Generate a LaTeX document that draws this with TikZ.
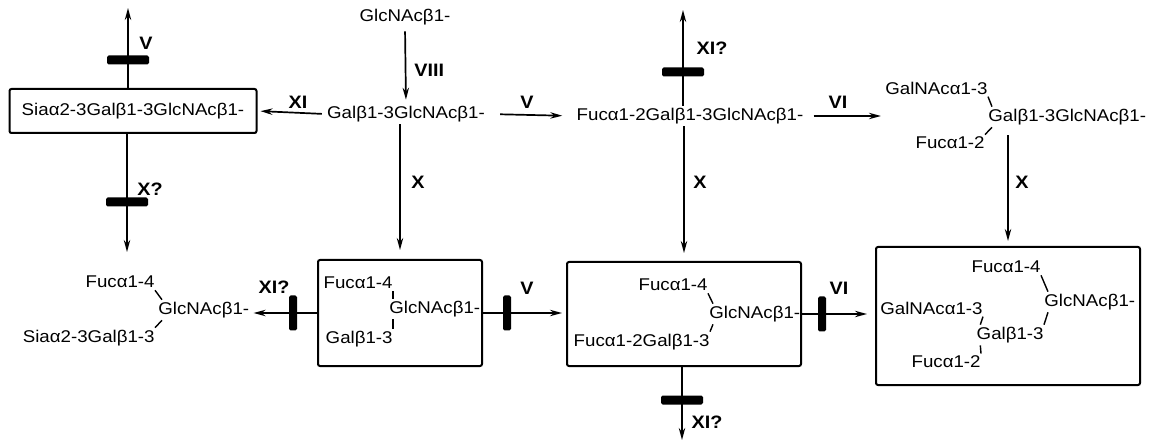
\documentclass[tikz,border=0pt]{standalone}
\usepackage{fontspec}
\setmainfont{Liberation Sans}[FakeStretch=1.1]
\usetikzlibrary{arrows.meta}
\tikzset{
  sugar/.style={font=\fontsize{8.5}{10}\selectfont, inner sep=1pt},
  enzyme/.style={font=\fontsize{9}{10}\selectfont\bfseries, inner sep=1pt},
  productbox/.style={draw, line width=1pt, rounded corners=1pt, inner sep=0pt},
  reaction/.style={line width=0.85pt, -{Stealth[length=6pt,width=3.2pt]}},
  link/.style={line width=0.7pt},
  blockh/.style={fill, rounded corners=0.8pt, minimum width=21pt, minimum height=4.5pt, inner sep=0pt},
  blockv/.style={fill, rounded corners=0.8pt, minimum width=4pt, minimum height=17.5pt, inner sep=0pt}
}

\begin{document}
\begin{tikzpicture}[x=0.5pt, y=-0.5pt]
  \useasboundingbox (0,0) rectangle (1162,443);

  % upper row
  \node[sugar] (glcTop) at (405,17) {GlcNAcβ1-};
  \node[sugar] (galA) at (406,114) {Galβ1-3GlcNAcβ1-};
  \node[sugar, productbox, minimum width=123.5pt, minimum height=22pt] (sia) at (133,111) {Siaα2-3Galβ1-3GlcNAcβ1-};
  \node[sugar] (fucGal) at (690,116) {Fucα1-2Galβ1-3GlcNAcβ1-};
  \node[sugar, anchor=east] (galnacA) at (990,88) {GalNAcα1-3};
  \node[sugar, anchor=west] (galB) at (986,117) {Galβ1-3GlcNAcβ1-};
  \node[sugar, anchor=east] (fucB) at (987,143) {Fucα1-2};
  \draw[link] ([xshift=-1pt]galnacA.south east) -- ([xshift=3pt]galB.north west);
  \draw[link] ([xshift=3pt]galB.south west) -- ([xshift=-1pt]fucB.north east);

  % lower row
  \node[sugar, anchor=east] (fucC) at (157,282) {Fucα1-4};
  \node[sugar, anchor=west] (glcC) at (156,310) {GlcNAcβ1-};
  \node[sugar, anchor=east] (siaC) at (157,338) {Siaα2-3Galβ1-3};
  \draw[link] ([xshift=-1pt]fucC.south east) -- ([xshift=3pt]glcC.north west);
  \draw[link] ([xshift=3pt]glcC.south west) -- ([xshift=-1pt]siaC.north east);

  \node[productbox, minimum width=82pt, minimum height=53pt] (box2) at (400,313) {};
  \node[sugar, anchor=east] (fucD) at (395,283) {Fucα1-4};
  \node[sugar, anchor=west] (glcD) at (387,309) {GlcNAcβ1-};
  \node[sugar, anchor=east] (galD) at (395,339) {Galβ1-3};
  \draw[link] ([xshift=-1pt]fucD.south east) -- ([xshift=3pt]glcD.north west);
  \draw[link] ([xshift=3pt]glcD.south west) -- ([xshift=-1pt]galD.north east);

  \node[productbox, minimum width=117pt, minimum height=52pt] (box3) at (684,314) {};
  \node[sugar, anchor=east] (fucE) at (710,285) {Fucα1-4};
  \node[sugar, anchor=west] (glcE) at (707,314) {GlcNAcβ1-};
  \node[sugar, anchor=east] (fgE) at (712,342) {Fucα1-2Galβ1-3};
  \draw[link] ([xshift=-1pt]fucE.south east) -- ([xshift=3pt]glcE.north west);
  \draw[link] ([xshift=3pt]glcE.south west) -- ([xshift=-1pt]fgE.north east);

  \node[productbox, minimum width=132pt, minimum height=69pt] (box4) at (1008,316) {};
  \node[sugar, anchor=east] (fucF) at (1043,267) {Fucα1-4};
  \node[sugar, anchor=west] (glcF) at (1042,302) {GlcNAcβ1-};
  \node[sugar, anchor=east] (galnacF) at (985,308) {GalNAcα1-3};
  \node[sugar, anchor=east] (galF) at (1046,335) {Galβ1-3};
  \node[sugar, anchor=east] (fucG) at (983,362) {Fucα1-2};
  \draw[link] ([xshift=-1pt]fucF.south east) -- ([xshift=3pt]glcF.north west);
  \draw[link] ([xshift=3pt]glcF.south west) -- ([xshift=-1pt]galF.north east);
  \draw[link] ([xshift=-1pt]galnacF.south east) -- ([xshift=3pt]galF.north west);
  \draw[link] ([xshift=3pt]galF.south west) -- ([xshift=-1pt]fucG.north east);

  % reactions
  \coordinate (siaUp) at (128,8);
  \coordinate (siaDown) at (127,252);
  \coordinate (fgUp) at (683,10);
  \coordinate (b3Down) at (682,440);
  \draw[reaction, shorten <=2pt, shorten >=2pt] (glcTop.south) -- (galA.north);
  \draw[reaction, shorten <=1.5pt, shorten >=1.5pt] (galA.west) -- (sia.east);
  \draw[reaction, shorten <=6.5pt, shorten >=6pt] (galA.east) -- (fucGal.west);
  \draw[reaction, shorten <=4pt, shorten >=1pt] (fucGal.east) -- (fucGal.east -| galnacA.west);
  \draw[reaction] (sia.north -| siaUp) -- (siaUp);
  \draw[reaction] (sia.south -| siaDown) -- (siaDown);
  \draw[reaction, shorten >=4.5pt] (galA.south -| box2.north) -- (box2.north);
  \draw[reaction] (fucGal.north -| fgUp) -- (fgUp);
  \draw[reaction, shorten >=4pt] (fucGal.south -| box3.north) -- (box3.north);
  \draw[reaction, shorten <=4pt, shorten >=2.5pt] (galB.south -| box4.north) -- (box4.north);
  \draw[reaction, shorten >=1pt] (box2.west) -- (glcC.east |- box2.west);
  \draw[reaction, shorten >=2pt] (box2.east) -- (box3.west |- box2.east);
  \draw[reaction, shorten >=4pt] (box3.east) -- (box4.west |- box3.east);
  \draw[reaction] (box3.south -| b3Down) -- (b3Down);

  % blocked steps
  \node[blockh] (blockA) at (128,60) {};
  \node[blockh] (blockB) at (127,202) {};
  \node[blockh] (blockC) at (683,72) {};
  \node[blockh] (blockD) at (682,400) {};
  \node[blockv] (blockE) at (293,313) {};
  \node[blockv] (blockF) at (507,313) {};
  \node[blockv] (blockG) at (822,314) {};

  % enzymes
  \node[enzyme, anchor=west] (eVIII) at (412,70) {VIII};
  \node[enzyme] (eXIa) at (298,102) {XI};
  \node[enzyme] (eVa) at (527,102) {V};
  \node[enzyme] (eVIa) at (838,102) {VI};
  \node[enzyme] (eVb) at (146,43) {V};
  \node[enzyme] (eXq) at (150,189) {X?};
  \node[enzyme] (eXa) at (418,182) {X};
  \node[enzyme] (eXb) at (700,182) {X};
  \node[enzyme] (eXIb) at (712,48) {XI?};
  \node[enzyme] (eXc) at (1022,182) {X};
  \node[enzyme] (eXIc) at (274,287) {XI?};
  \node[enzyme] (eVc) at (527,288) {V};
  \node[enzyme] (eVIb) at (839,288) {VI};
  \node[enzyme] (eXId) at (707,422) {XI?};
\end{tikzpicture}
\end{document}
